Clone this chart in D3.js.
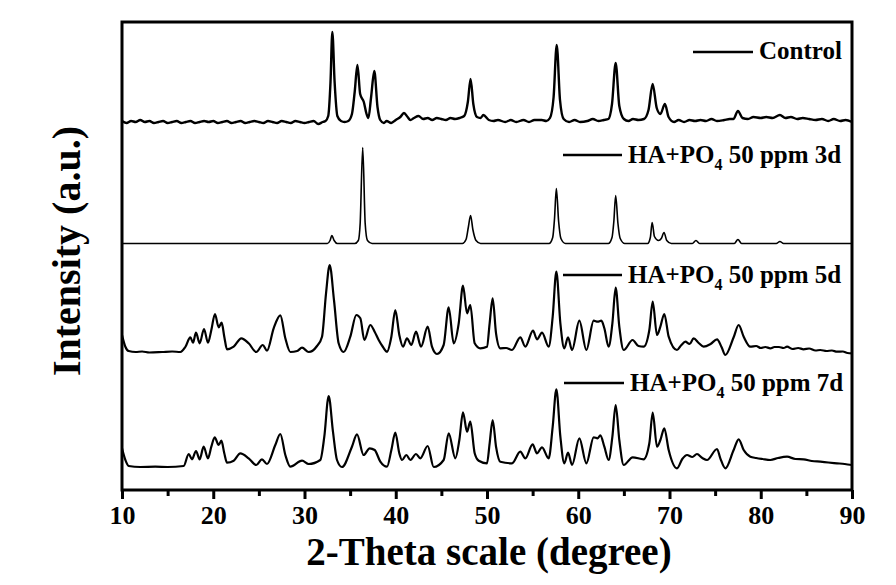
<!DOCTYPE html>
<html>
<head>
<meta charset="utf-8">
<script src="https://cdn.jsdelivr.net/npm/d3@7"></script>
<style>
  html, body { margin: 0; padding: 0; background: #fff; }
  svg { display: block; }
  text { font-family: "Liberation Serif", "Times New Roman", serif; font-weight: bold; fill: #000; }
</style>
</head>
<body>
<svg id="chart" width="896" height="585"></svg>
<script>
// ---------- DATA (2-theta in degrees, intensity in a.u. above each trace's own baseline) ----------
const seriesNames = ["Control", "HA+PO4 50 ppm 3d", "HA+PO4 50 ppm 5d", "HA+PO4 50 ppm 7d"];
const seriesOffsets = [368, 246.5, 138, 23];
const xTickValues = [10, 20, 30, 40, 50, 60, 70, 80, 90];
const xMinorTickValues = [15, 25, 35, 45, 55, 65, 75, 85];

const control = [
  [10,1],[10.5,-1],[11,1],[11.5,0],[12,2],[12.5,0],[13,1],[13.5,-1],[14,0],[14.5,1],[15,-1],[15.5,0],
  [16,1],[16.5,-1],[17,0],[17.5,1],[18,-1],[18.5,0],[19,1],[19.5,0],[20,1],[20.5,-1],[21,0],[21.5,1],
  [22,-1],[22.5,0],[23,1],[23.5,-1],[24,0],[24.5,1],[25,0],[25.5,-1],[26,1],[26.5,0],[27,-1],[27.5,1],
  [28,0],[28.5,-1],[29,1],[29.5,0],[30,-1],[30.5,0],[31,1],[31.5,-2],[32,0],[32.3,1],[32.6,6],[32.85,40],
  [33.05,90],[33.3,40],[33.6,6],[34,1],[34.4,0],[34.8,1],[35.2,8],[35.5,30],[35.8,57],[36.1,28],[36.5,20],
  [36.8,8],[37.0,4],[37.3,25],[37.65,51],[38.0,15],[38.3,2],[38.7,-1],[39,1],[39.5,-1],[40,2],[40.5,5],[40.9,9],
  [41.3,5],[41.6,2],[42,4],[42.5,6],[43,3],[43.5,4],[44,2],[44.5,4],[45,3],[45.5,2],[46,4],[46.5,3],[47,4],
  [47.5,6],[47.9,20],[48.2,43],[48.5,18],[48.9,5],[49.3,4],[49.6,7],[50.2,2],[50.7,1],[51.2,2],[52,0],[52.6,2],
  [53.2,0],[54,2],[54.6,0],[55.2,2],[56,2],[56.5,1],[56.9,4],[57.3,25],[57.64,77],[58.0,22],[58.4,3],[59,0],
  [59.6,2],[60.2,0],[61,1],[61.6,3],[62.2,1],[62.8,2],[63.3,3],[63.7,18],[64.1,59],[64.5,16],[65,3],[65.5,1],
  [66,3],[66.6,2],[67.2,3],[67.7,12],[68.15,38],[68.6,14],[69.0,8],[69.5,18],[69.9,5],[70.5,0],[71,2],[71.6,0],
  [72.2,2],[72.8,1],[73.4,2],[74,1],[74.6,3],[75.2,1],[76,2],[76.6,3],[77,3],[77.5,11],[78,4],[78.6,3],[79.2,5],
  [80,4],[80.6,5],[81.3,4],[82.1,7],[82.7,4],[83.3,5],[84,3],[84.6,4],[85.3,3],[86,2],[86.7,3],[87.4,1],
  [88,3],[88.7,1],[89.3,2],[90,0]
];

const ha3d = [
  [10,0],[15,0],[20,0],[25,0],[30,0],[32.5,0],[32.8,3],[33.0,8],[33.25,3],[33.6,0],[35.5,0],[35.9,3],
  [36.1,20],[36.38,96],[36.65,20],[36.9,3],[37.4,0],[42,0],[47.3,0],[47.7,4],[47.95,16],[48.2,28],[48.45,14],
  [48.8,3],[49.3,0],[53,0],[56.8,0],[57.2,6],[57.4,25],[57.6,55],[57.85,22],[58.1,5],[58.6,0],[61,0],
  [63.3,0],[63.7,6],[63.9,22],[64.1,48],[64.35,20],[64.6,5],[65.1,0],[67.6,0],[67.9,6],[68.1,21],[68.35,7],
  [68.8,3],[69.1,5],[69.4,11],[69.7,3],[70.2,0],[72.5,0],[72.9,3],[73.3,0],[77.1,0],[77.5,4],[77.9,0],
  [81.7,0],[82.1,2],[82.5,0],[86,0],[90,0]
];

const ha5d = [
  [10,17],[10.37,5.3],[10.73,1],[11.5,0],[12.2,0.5],[13,-0.5],[14.4,0],[15.5,0.5],[16.4,0],[16.94,5],
  [17.49,14.7],[17.78,9.3],[18.11,19.3],[18.51,8.7],[18.99,23],[19.42,9.3],[19.79,22],[20.19,38],[20.59,24.7],
  [20.92,29.3],[21.21,15.3],[21.51,2.7],[22.24,5.3],[23.08,13.7],[23.88,8.7],[24.72,0],[25.42,7],[25.89,1.3],
  [26.62,23.7],[27.35,36.7],[27.9,13.7],[28.45,0],[29.2,1],[29.73,4.3],[30.46,0],[31.37,6],[31.92,15.3],
  [32.36,58.7],[32.76,87],[33.23,52],[33.74,8.7],[34.29,0],[35.02,15.3],[35.68,37],[36.12,33.7],[36.56,12],
  [37.21,27],[37.7,20],[38.13,12],[38.6,5],[39.04,0.3],[39.52,15.3],[39.95,42],[40.39,17],[40.8,5.3],
  [41.23,13.7],[41.71,7],[42.22,20.3],[42.77,5.3],[43.5,25.3],[43.97,5.3],[44.52,-2],[45.25,7],[45.8,44.7],
  [46.35,8.7],[46.9,28.7],[47.37,66.3],[47.81,38.7],[48.17,47],[48.65,8.7],[49.27,3.7],[50.0,5.3],
  [50.29,28.7],[50.62,53.7],[50.99,18.7],[51.46,3.7],[52.1,4],[52.74,2],[53.65,14.7],[54.2,5.3],[55.04,21.3],
  [55.48,12.7],[56.03,19.3],[56.76,5.3],[57.2,35.3],[57.6,80.3],[58.04,28.7],[58.47,3.7],[58.88,14.7],
  [59.32,2],[60.12,31.3],[60.89,2],[61.69,31.3],[62.13,30.3],[62.53,31.3],[62.86,23.7],[63.33,5.3],[63.74,28.7],
  [64.1,64.3],[64.5,25.3],[64.98,2],[65.96,12],[66.6,6],[67.17,5.3],[67.79,22],[68.16,50.3],[68.63,17],
  [69.0,25.3],[69.43,38],[69.91,15.3],[70.82,2],[71.3,7],[71.74,10.3],[72.2,8],[72.65,13.7],[73.2,9],[73.74,5.3],
  [74.5,8],[75.21,12.7],[75.7,5],[76.12,-3],[77.03,14.7],[77.58,27],[78.13,15.3],[78.86,5.3],[79.5,6],[80,4],
  [80.5,5],[81.05,3.7],[81.5,5],[82,5],[82.5,4],[82.88,5.3],[83.5,3],[84.1,4],[84.7,2.7],[85.3,3.5],[86,1.5],
  [86.53,2],[87.2,1],[87.8,1.5],[88.36,0.3],[89,0.5],[89.5,-1],[90,-1.3]
];

const ha7d = [
  [10,18.7],[10.37,7],[10.73,1],[12,0],[13.65,0.3],[15,0],[16.76,1],[17.31,13],[17.67,7.7],[18.11,16],
  [18.51,7.7],[18.95,20.3],[19.42,8.7],[19.79,20.3],[20.16,29.7],[20.59,22],[20.89,26.3],[21.21,13.7],
  [21.51,4.3],[22.24,6.3],[22.97,13.7],[23.88,8.7],[24.72,2],[25.34,7.7],[25.89,3],[26.8,22],[27.35,33],
  [27.9,12],[28.45,0.3],[29.73,6.3],[30.46,3],[31.73,7],[32.17,30.3],[32.65,71],[33.12,35.3],[33.56,7],
  [34.11,0],[35.2,20.3],[35.75,32.7],[36.48,12],[37.14,18.7],[37.69,17],[38.31,5.3],[39.04,0.3],[39.52,17],
  [39.95,34.3],[40.39,13.7],[40.69,7],[41.16,12],[41.6,7],[42.22,13],[42.69,8.7],[43.5,21],[44.16,0],
  [45.25,7],[45.8,33.7],[46.53,8.7],[46.97,27],[47.37,54.7],[47.81,35.3],[48.17,45.3],[48.65,13.7],
  [49.09,6.3],[50.0,3.7],[50.29,23.7],[50.62,47],[50.99,20.3],[51.46,5.3],[52.74,3.7],[53.65,15.3],
  [54.2,8.7],[55.0,22.7],[55.48,13.7],[56.03,19.7],[56.76,8.7],[57.2,40.3],[57.6,77.7],[58.04,30.3],
  [58.47,3.7],[58.88,14.3],[59.32,2],[60.12,28.7],[60.89,3.7],[61.69,29.7],[62.13,28.7],[62.42,31.7],
  [62.86,20.3],[63.33,7],[63.74,30.3],[64.1,62],[64.5,27],[64.98,2],[65.96,9.7],[67.17,7.7],[67.79,23.7],
  [68.16,54.3],[68.63,20.3],[69.0,27],[69.43,38.7],[69.91,17],[70.82,-1.3],[71.4,8],[71.92,12],[72.5,10],
  [73.01,13],[73.6,9],[74.11,7],[75.21,18],[75.57,8.7],[76.12,-1.3],[77.03,17],[77.58,27.7],[78.13,17],
  [78.86,10.3],[79.5,9],[80.2,8],[81.05,7],[81.9,9],[82.88,10.3],[83.8,8],[84.7,7.7],[85.6,6],[86.53,5.3],
  [87.4,4.5],[88.36,3.7],[89.2,3],[90,2]
];

const seriesData = [control, ha3d, ha5d, ha7d];
const strokeWidths = [2.4, 1.6, 2.2, 2.2];

// ---------- CHART ----------
const svg = d3.select("#chart");
const m = { left: 122, right: 852, top: 22, bottom: 490 };

const x = d3.scaleLinear().domain([10, 90]).range([m.left, m.right]);
const y = d3.scaleLinear().domain([0, 468]).range([m.bottom, m.top]);

const line = d3.line()
  .x(d => x(d[0]))
  .y(d => y(d[1]))
  .curve(d3.curveMonotoneX);

const clipId = "plotclip";
svg.append("clipPath").attr("id", clipId)
  .append("rect").attr("x", m.left).attr("y", m.top)
  .attr("width", m.right - m.left).attr("height", m.bottom - m.top);

const traces = svg.append("g").attr("clip-path", `url(#${clipId})`);
seriesData.forEach((s, i) => {
  const off = seriesOffsets[i];
  traces.append("path")
    .datum(s.map(d => [d[0], d[1] + off]))
    .attr("d", line)
    .attr("fill", "none")
    .attr("stroke", "#000")
    .attr("stroke-width", strokeWidths[i])
    .attr("stroke-linejoin", "round");
});

// Frame
svg.append("rect")
  .attr("x", m.left).attr("y", m.top)
  .attr("width", m.right - m.left).attr("height", m.bottom - m.top)
  .attr("fill", "none").attr("stroke", "#000").attr("stroke-width", 3);

// X axis (major ticks + labels)
const xAxis = d3.axisBottom(x).tickValues(xTickValues).tickSize(9).tickPadding(7).tickFormat(d3.format("d"));
const gx = svg.append("g").attr("transform", `translate(0,${m.bottom})`).call(xAxis);
gx.select(".domain").remove();
gx.selectAll(".tick line").attr("stroke", "#000").attr("stroke-width", 3);
gx.selectAll(".tick text")
  .attr("font-family", "'Liberation Serif', 'Times New Roman', serif")
  .attr("font-weight", "bold").attr("font-size", 26).attr("fill", "#000");

// Minor ticks
const xMinor = d3.axisBottom(x).tickValues(xMinorTickValues).tickSize(6).tickFormat("");
const gxm = svg.append("g").attr("transform", `translate(0,${m.bottom})`).call(xMinor);
gxm.select(".domain").remove();
gxm.selectAll(".tick line").attr("stroke", "#000").attr("stroke-width", 3);

// Axis titles
svg.append("text")
  .attr("x", (m.left + m.right) / 2 + 2).attr("y", 565)
  .attr("text-anchor", "middle").attr("font-size", 39)
  .text("2-Theta scale (degree)");

svg.append("text")
  .attr("transform", `translate(80,${(m.top + m.bottom) / 2 - 5}) rotate(-90)`)
  .attr("text-anchor", "middle").attr("font-size", 40)
  .text("Intensity (a.u.)");

// Legend labels
const legendPos = [
  { x1: 693, x2: 753, y: 52, tx: 759, ty: 59 },
  { x1: 563, x2: 622, y: 155, tx: 628, ty: 163 },
  { x1: 563, x2: 622, y: 275, tx: 628, ty: 283 },
  { x1: 564, x2: 624, y: 383, tx: 630, ty: 391 }
];
seriesNames.forEach((name, i) => {
  const p = legendPos[i];
  svg.append("line").attr("x1", p.x1).attr("x2", p.x2).attr("y1", p.y).attr("y2", p.y)
    .attr("stroke", "#000").attr("stroke-width", 2.6);
  const t = svg.append("text").attr("x", p.tx).attr("y", p.ty).attr("font-size", 25);
  const idx = name.indexOf("PO4");
  if (idx >= 0) {
    t.append("tspan").text(name.slice(0, idx + 2));
    t.append("tspan").attr("font-size", 16).attr("dy", 7).text("4");
    t.append("tspan").attr("dy", -7).text(name.slice(idx + 3));
  } else {
    t.text(name);
  }
});
</script>
</body>
</html>
